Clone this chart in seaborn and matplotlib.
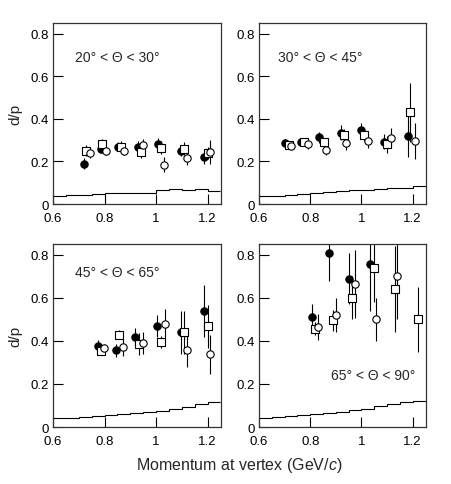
import numpy as np
import seaborn as sns
import matplotlib.pyplot as plt
from matplotlib.ticker import FormatStrFormatter

sns.set_style("ticks")
plt.rcParams['font.family'] = ['Liberation Sans', 'DejaVu Sans']
plt.rcParams['mathtext.fontset'] = 'custom'
plt.rcParams['mathtext.it'] = 'Liberation Sans:italic'

# panel titles
labels = ["20° < Θ < 30°", "30° < Θ < 45°", "45° < Θ < 65°", "65° < Θ < 90°"]

# histogram (acceptance) bins
edges = np.arange(0.6, 1.2501, 0.05)
hist_1 = [0.039, 0.040, 0.042, 0.047, 0.050, 0.050, 0.050, 0.050, 0.065, 0.070, 0.068, 0.071, 0.062]
hist_2 = [0.037, 0.039, 0.043, 0.048, 0.051, 0.056, 0.059, 0.064, 0.067, 0.070, 0.073, 0.076, 0.084]
hist_3 = [0.040, 0.043, 0.047, 0.053, 0.056, 0.062, 0.067, 0.071, 0.074, 0.082, 0.091, 0.109, 0.115]
hist_4 = [0.042, 0.045, 0.051, 0.056, 0.060, 0.067, 0.071, 0.078, 0.085, 0.099, 0.107, 0.115, 0.122]

# panel 1: 20-30 deg
fill_x1 = [0.72, 0.786, 0.853, 0.93, 1.009, 1.097, 1.187]
fill_y1 = [0.19, 0.26, 0.27, 0.27, 0.28, 0.25, 0.22]
fill_e1 = [0.025, 0.02, 0.02, 0.025, 0.03, 0.025, 0.03]
sq_x1 = [0.73, 0.79, 0.865, 0.94, 1.02, 1.11, 1.20]
sq_y1 = [0.25, 0.28, 0.27, 0.245, 0.265, 0.26, 0.24]
sq_e1 = [0.025, 0.025, 0.025, 0.03, 0.03, 0.03, 0.03]
op_x1 = [0.745, 0.806, 0.876, 0.95, 1.03, 1.12, 1.21]
op_y1 = [0.24, 0.25, 0.25, 0.275, 0.185, 0.215, 0.245]
op_e1 = [0.025, 0.02, 0.02, 0.03, 0.035, 0.03, 0.055]

# panel 2: 30-45 deg
fill_x2 = [0.70, 0.765, 0.836, 0.92, 1.0, 1.088, 1.183]
fill_y2 = [0.285, 0.293, 0.313, 0.335, 0.347, 0.293, 0.32]
fill_e2 = [0.02, 0.015, 0.025, 0.035, 0.035, 0.035, 0.10]
sq_x2 = [0.716, 0.777, 0.852, 0.93, 1.01, 1.10, 1.19]
sq_y2 = [0.278, 0.29, 0.29, 0.324, 0.324, 0.28, 0.43]
sq_e2 = [0.015, 0.015, 0.02, 0.03, 0.03, 0.04, 0.14]
op_x2 = [0.726, 0.79, 0.86, 0.94, 1.027, 1.115, 1.21]
op_y2 = [0.274, 0.28, 0.254, 0.285, 0.296, 0.31, 0.296]
op_e2 = [0.015, 0.02, 0.025, 0.03, 0.035, 0.045, 0.085]

# panel 3: 45-65 deg
fill_x3 = [0.773, 0.844, 0.92, 1.005, 1.095, 1.186]
fill_y3 = [0.375, 0.357, 0.42, 0.47, 0.44, 0.54]
fill_e3 = [0.03, 0.03, 0.04, 0.05, 0.10, 0.12]
sq_x3 = [0.786, 0.857, 0.935, 1.02, 1.11, 1.20]
sq_y3 = [0.354, 0.43, 0.385, 0.395, 0.44, 0.468]
sq_e3 = [0.02, 0.02, 0.05, 0.03, 0.10, 0.10]
op_x3 = [0.797, 0.87, 0.95, 1.035, 1.12, 1.21]
op_y3 = [0.365, 0.372, 0.39, 0.48, 0.357, 0.338]
op_e3 = [0.02, 0.04, 0.05, 0.07, 0.08, 0.09]

# panel 4: 65-90 deg
fill_x4 = [0.806, 0.874, 0.953, 1.034]
fill_y4 = [0.51, 0.81, 0.69, 0.76]
fill_e4 = [0.06, 0.13, 0.12, 0.22]
sq_x4 = [0.817, 0.887, 0.964, 1.047, 1.13, 1.22]
sq_y4 = [0.457, 0.496, 0.60, 0.74, 0.64, 0.50]
sq_e4 = [0.03, 0.05, 0.10, 0.16, 0.20, 0.15]
op_x4 = [0.83, 0.90, 0.975, 1.055, 1.14]
op_y4 = [0.465, 0.52, 0.665, 0.50, 0.70]
op_e4 = [0.06, 0.08, 0.16, 0.10, 0.20]

panels = [
    (hist_1, fill_x1, fill_y1, fill_e1, sq_x1, sq_y1, sq_e1, op_x1, op_y1, op_e1),
    (hist_2, fill_x2, fill_y2, fill_e2, sq_x2, sq_y2, sq_e2, op_x2, op_y2, op_e2),
    (hist_3, fill_x3, fill_y3, fill_e3, sq_x3, sq_y3, sq_e3, op_x3, op_y3, op_e3),
    (hist_4, fill_x4, fill_y4, fill_e4, sq_x4, sq_y4, sq_e4, op_x4, op_y4, op_e4),
]
label_pos = [(0.685, 0.69), (0.675, 0.69), (0.685, 0.72), (0.88, 0.24)]

fig = plt.figure(figsize=(4.51, 4.85), dpi=100)
boxes = [
    [0.1175, 0.5773, 0.3725, 0.3732],
    [0.5743, 0.5773, 0.3703, 0.3732],
    [0.1175, 0.1175, 0.3725, 0.377],
    [0.5743, 0.1175, 0.3703, 0.377],
]

for i, (box, p) in enumerate(zip(boxes, panels)):
    ax = fig.add_axes(box)
    hist, fx, fy, fe, sx, sy, se, ox, oy, oe = p
    ax.stairs(hist, edges, color="black", lw=0.8, baseline=None)

    ax.errorbar(fx, fy, yerr=fe, fmt="none", ecolor="black", elinewidth=0.8)
    ax.errorbar(sx, sy, yerr=se, fmt="none", ecolor="black", elinewidth=0.8)
    ax.errorbar(ox, oy, yerr=oe, fmt="none", ecolor="black", elinewidth=0.8)
    sns.scatterplot(x=fx, y=fy, ax=ax, marker="o", s=28, color="black",
                    edgecolor="black", linewidth=0.8, zorder=3)
    sns.scatterplot(x=sx, y=sy, ax=ax, marker="s", s=28, color="white",
                    edgecolor="black", linewidth=0.8, zorder=3)
    sns.scatterplot(x=ox, y=oy, ax=ax, marker="o", s=28, color="white",
                    edgecolor="black", linewidth=0.8, zorder=3)

    ax.set_xlim(0.6, 1.252)
    ax.set_ylim(0, 0.85)
    ax.set_xticks([0.6, 0.8, 1.0, 1.2])
    ax.set_yticks([0, 0.2, 0.4, 0.6, 0.8])
    ax.xaxis.set_major_formatter(FormatStrFormatter("%g"))
    ax.yaxis.set_major_formatter(FormatStrFormatter("%g"))
    ax.tick_params(direction="in", length=7, width=0.8, labelsize=9.5,
                   top=False, right=False, colors="black")
    ax.tick_params(axis="x", pad=6)
    ax.tick_params(axis="y", pad=3)
    for s in ax.spines.values():
        s.set_visible(True)
        s.set_linewidth(0.9)
        s.set_color("#333333")

    lx, ly = label_pos[i]
    ax.text(lx, ly, labels[i], fontsize=10, va="center", ha="left")

    if i in (0, 2):
        ax.set_ylabel("d/p", fontsize=11, labelpad=6)

fig.text(0.53, 0.04, "Momentum at vertex (GeV/$c$)", fontsize=11.5, ha="center", va="center")

fig.savefig("out.png", dpi=100)
